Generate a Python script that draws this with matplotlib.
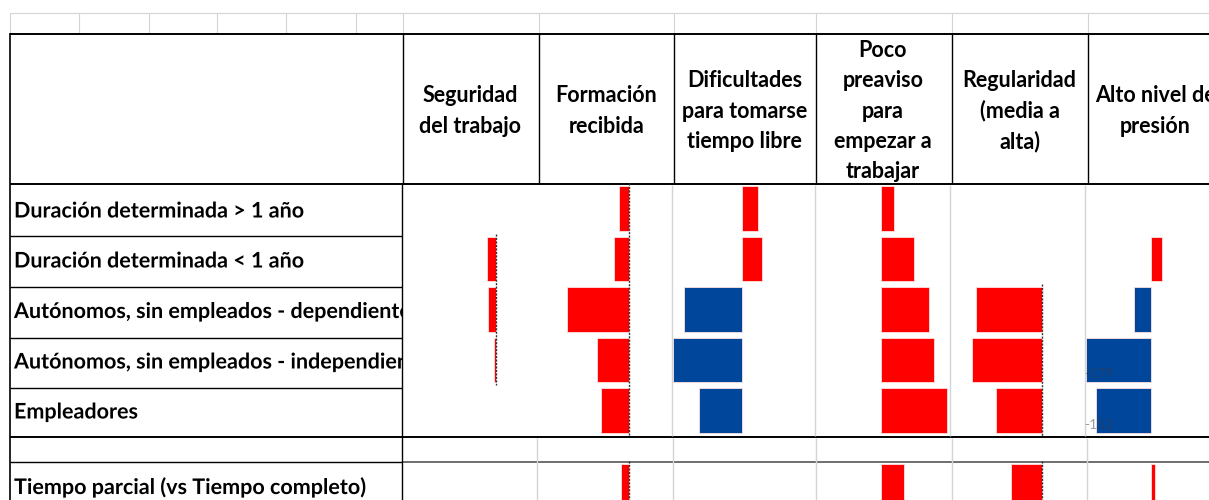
import numpy as np
import matplotlib
matplotlib.use("Agg")
import matplotlib.pyplot as plt
import matplotlib.patheffects as pe
from matplotlib.transforms import Bbox, TransformedBbox

# ---- data -------------------------------------------------------------
rows = ["Duración determinada > 1 año",
        "Duración determinada < 1 año",
        "Autónomos, sin empleados - dependientes",
        "Autónomos, sin empleados - independientes",
        "Empleadores",
        "Tiempo parcial (vs Tiempo completo)"]

headers = [["Seguridad", "del trabajo"],
           ["Formación", "recibida"],
           ["Dificultades", "para tomarse", "tiempo libre"],
           ["Poco", "preaviso", "para", "empezar a", "trabajar"],
           ["Regularidad", "(media a", "alta)"],
           ["Alto nivel de", "presión"]]

# +1: a higher value is favourable, -1: a higher value is unfavourable
good_sign = [1, 1, -1, -1, 1, -1]

# one list per column, one value per row (nan = no bar)
nan = np.nan
seguridad   = [nan, -23, -20, -4, nan, nan]
formacion   = [-26, -41, -168, -86, -77, -23]
dificultad  = [45, 54, -158, -188, -115, nan]
preaviso    = [34, 88, 130, 143, 179, 63]
regularidad = [nan, nan, -180, -189, -125, -84]
presion     = [nan, 30, -46, -179, -152, 11]
columns = [seguridad, formacion, dificultad, preaviso, regularidad, presion]

RED = "#FF0000"
BLUE = "#00469B"

# ---- layout (pixels of the 1209x500 canvas) ---------------------------
W, H = 1209, 500
fig = plt.figure(figsize=(W / 100, H / 100), dpi=100)
ax = fig.add_axes([0, 0, 1, 1])
ax.set_xlim(0, W)
ax.set_ylim(H, 0)
ax.axis("off")

font = "Lato"
fs = 15.5
light = "#D4D4D4"

# top light grid row
ax.hlines(12.5, 10, W, color=light, lw=0.8)
for x in [10, 79, 148.5, 217, 286, 356, 403, 539, 674, 816, 951.5, 1087.5]:
    ax.vlines(x, 12.5, 33, color=light, lw=0.8)

# black table frame
ax.hlines(33.5, 10, W, color="black", lw=1.4)
ax.vlines(10, 33, H, color="black", lw=1.2)
for x in [403, 539, 674, 816, 951.5, 1087.5]:
    ax.vlines(x, 33, 184, color="black", lw=1.0)
ax.hlines(184, 10, W, color="black", lw=1.4)
ax.hlines([236, 286.5, 337.5, 387.5], 10, 402, color="black", lw=1.0)
ax.hlines(437, 10, W, color="black", lw=1.4)
ax.hlines(462, 10, 402, color="black", lw=1.0)
ax.hlines(462, 402, W, color="#555555", lw=1.2)
ax.vlines(402, 184, H, color="black", lw=1.0)

# light column lines inside the chart area and the rows below
ax.vlines([672, 815, 949.5, 1085], 185, 436, color=light, lw=1.0)
ax.vlines([537, 673, 816, 952, 1087], 437.5, H, color=light, lw=1.0)

# header texts
head_x = [470, 606.5, 744.5, 883, 1019.5, 1155.5]
pitch = 30.4
for cx, lines in zip(head_x, headers):
    n = len(lines)
    for i, t in enumerate(lines):
        ax.text(cx, 111 + (i - (n - 1) / 2) * pitch, t, ha="center", va="center",
                fontsize=fs, fontweight="bold", family=font, color="black")

# row labels, clipped at the label column (drawn as paths so the clip applies)
clip = TransformedBbox(Bbox([[10, 33], [401.5, H]]), ax.transData)
label_y = [211, 261, 311.5, 362, 412, 487]
for y, t in zip(label_y, rows):
    txt = ax.text(14, y, t, ha="left", va="center", fontsize=fs,
                  fontweight="bold", family=font, color="black",
                  path_effects=[pe.Normal()])
    txt.set_clip_on(True)
    txt.set_clip_box(clip)
    txt.set_clip_path(None)

# ---- bar panels ------------------------------------------------------
panels = [(403, 537, 495.7), (537, 672, 629), (672, 815, 741.7),
          (815, 950, 881.3), (950, 1086, 1041.7), (1086, W, 1151.3)]
scale = 0.367            # pixels per unit
ypos = np.array([0, 1, 2, 3, 4, 5.5])
top_px, row0_px, row_px = 183, 208.5, 50.5
ylim = ((H - row0_px) / row_px, (top_px - row0_px) / row_px)

dashed_cols = [0, 1, 4]

for k, ((L, R, z), vals) in enumerate(zip(panels, columns)):
    pax = fig.add_axes([L / W, 0, (R - L) / W, (H - top_px) / H])
    pax.set_facecolor("none")
    pax.set_xlim((L - z) / scale, (R - z) / scale)
    pax.set_ylim(*ylim)
    pax.axis("off")
    v = np.array(vals, dtype=float)
    ok = ~np.isnan(v)
    colors = [BLUE if val * good_sign[k] > 0 else RED for val in v[ok]]
    pax.barh(ypos[ok], v[ok], height=0.89, color=colors,
             edgecolor="#FFE0E0", linewidth=0.6)
    if k in dashed_cols:
        main = ok & (ypos < 5)
        ys = ypos[main]
        pax.vlines(0, ys.min() - 0.5, ys.max() + 0.5, color="#333333",
                   lw=1.0, linestyles=(0, (1.5, 1.0)))
        if ok[-1]:
            pax.vlines(0, 5.0, ylim[0], color="#333333", lw=1.0,
                       linestyles=(0, (1.5, 1.0)))
    if k == 5:
        for yy, val in zip(ypos[3:5], v[3:5]):
            pax.text(-102, yy + 0.28, f"-{abs(int(val))}", ha="right",
                     va="center", fontsize=10, color="#3A3A3A", alpha=0.5,
                     family=font)

fig.savefig("out.png", dpi=100)
